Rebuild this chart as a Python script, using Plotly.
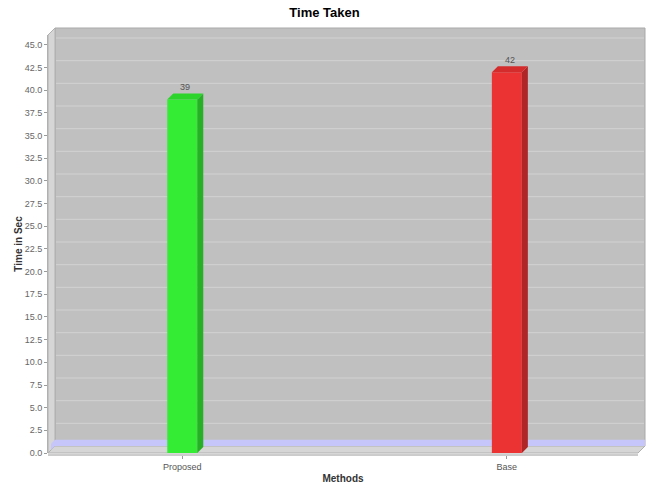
import plotly.graph_objects as go

# ---- data -------------------------------------------------------------
categories = ["Proposed", "Base"]
time_taken = [39, 42]
front_colors = ["#33ec33", "#ec3333"]
top_colors = ["#2cd42c", "#d42c2c"]
side_colors = ["#26b026", "#b02626"]
y_ticks = [i * 2.5 for i in range(19)]
y_tick_text = [f"{v:.1f}" for v in y_ticks]
marker_band = [0.0, 0.7]

# ---- geometry ---------------------------------------------------------
W, H = 649, 485
M_L, M_R, M_T, M_B = 48, 11, 35, 30
AXIS_GAP = 2                      # category axis sits a little below the floor
plot_w = W - M_L - M_R
plot_h = H - M_T - M_B - AXIS_GAP
Y_MAX = 46.1
X_MIN, X_MAX = -0.4136, 1.404
ppu = plot_h / Y_MAX              # pixels per value unit
ppx = plot_w / (X_MAX - X_MIN)    # pixels per category step
WALL = 7                          # 3D depth of the walls
DEPTH = 6                         # 3D depth of the bars
BAR_PX = 30
half = BAR_PX / 2
bar_width = BAR_PX / ppx
bd = DEPTH / ppu

FONT = "Liberation Sans"


def poly(pts):
    return "M " + " L ".join(f"{x:.2f},{y:.2f}" for x, y in pts) + " Z"


def frame_shape(pts, fill, line="#b4b4b4", width=1):
    # path in pixels, measured from the bottom-left corner of the value axis
    return dict(type="path", xref="x domain", yref="y domain",
                xsizemode="pixel", ysizemode="pixel", xanchor=0, yanchor=0,
                path=poly(pts), fillcolor=fill,
                line=dict(color=line, width=width), layer="below")


shapes = []
# back wall, left wall, floor
shapes.append(frame_shape([(WALL, WALL), (plot_w + WALL, WALL),
                           (plot_w + WALL, plot_h + WALL), (WALL, plot_h + WALL)],
                          "#c0c0c0", "#a9a9a9"))
shapes.append(frame_shape([(0, 0), (WALL, WALL), (WALL, plot_h + WALL), (0, plot_h)],
                          "#d6d6d6", "#b0b0b0"))
shapes.append(frame_shape([(0, 0), (plot_w, 0), (plot_w + WALL, WALL), (WALL, WALL)],
                          "#d6d6d6", "#b0b0b0"))

# marker band on the back and left walls
lo, hi = marker_band[0] * ppu, marker_band[1] * ppu
shapes.append(frame_shape([(WALL, WALL + lo), (plot_w + WALL, WALL + lo),
                           (plot_w + WALL, WALL + hi), (WALL, WALL + hi)],
                          "#c6c6fb", "rgba(0,0,0,0)", 0))
shapes.append(frame_shape([(3, 3 + lo), (WALL, WALL + lo), (WALL, WALL + hi), (3, 3 + hi)],
                          "#c6c6fb", "rgba(0,0,0,0)", 0))

# grid lines on the back wall
for v in y_ticks[1:]:
    y = WALL + v * ppu
    shapes.append(dict(type="line", xref="x domain", yref="y domain",
                       xsizemode="pixel", ysizemode="pixel", xanchor=0, yanchor=0,
                       x0=WALL + 1, x1=plot_w + WALL - 1, y0=y, y1=y,
                       line=dict(color="#d2d2d2", width=1), layer="below"))

# front edge of the category axis
shapes.append(dict(type="line", xref="x domain", yref="paper",
                   x0=0, x1=1, y0=0, y1=0,
                   line=dict(color="#9a9a9a", width=1), layer="above"))

# 3D top and side faces of the bars
for i, v in enumerate(time_taken):
    shapes.append(dict(type="path", xref="x", yref="y",
                       xsizemode="pixel", xanchor=i, ysizemode="scaled",
                       path=poly([(half, 0), (half + DEPTH, bd),
                                  (half + DEPTH, v + bd), (half, v)]),
                       fillcolor=side_colors[i], line=dict(width=0), layer="above"))
    shapes.append(dict(type="path", xref="x", yref="y",
                       xsizemode="pixel", xanchor=i, ysizemode="scaled",
                       path=poly([(-half, v), (-half + DEPTH, v + bd),
                                  (half + DEPTH, v + bd), (half, v)]),
                       fillcolor=top_colors[i], line=dict(width=0), layer="above"))

fig = go.Figure(go.Bar(
    x=list(range(len(categories))), y=time_taken, width=bar_width,
    marker=dict(color=front_colors, line=dict(width=0)),
    hoverinfo="skip",
))

# value labels above each bar
annotations = [
    dict(x=i, y=v, xref="x", yref="y", text=str(v), showarrow=False,
         xshift=DEPTH / 2, yshift=DEPTH - 1, yanchor="bottom",
         font=dict(family=FONT, size=9, color="#555555"))
    for i, v in enumerate(time_taken)
]

fig.update_layout(
    width=W, height=H,
    margin=dict(l=M_L, r=M_R, t=M_T, b=M_B, autoexpand=False),
    paper_bgcolor="white", plot_bgcolor="rgba(0,0,0,0)",
    showlegend=False,
    title=dict(text="<b>Time Taken</b>", x=0.5, xanchor="center",
               y=1 - 12 / H, yanchor="middle",
               font=dict(family=FONT, size=13, color="#000000")),
    shapes=shapes,
    annotations=annotations,
    xaxis=dict(range=[X_MIN, X_MAX], tickvals=list(range(len(categories))),
               ticktext=categories, anchor="free", position=0,
               automargin=False,
               showgrid=False, zeroline=False, showline=False,
               ticks="outside", ticklen=3, tickcolor="#9a9a9a",
               tickfont=dict(family=FONT, size=9, color="#555555"),
               title=dict(text="<b>Methods</b>", standoff=4,
                          font=dict(family=FONT, size=10, color="#333333"))),
    yaxis=dict(range=[0, Y_MAX], domain=[AXIS_GAP / (H - M_T - M_B), 1],
               automargin=False,
               tickvals=y_ticks, ticktext=y_tick_text,
               showgrid=False, zeroline=False, showline=True,
               linecolor="#b0b0b0", linewidth=1,
               ticks="outside", ticklen=3, tickcolor="#9a9a9a",
               tickfont=dict(family=FONT, size=9, color="#666666"),
               title=dict(text="<b>Time in Sec</b>", standoff=0,
                          font=dict(family=FONT, size=10, color="#333333"))),
)

fig.write_html("out.html")
